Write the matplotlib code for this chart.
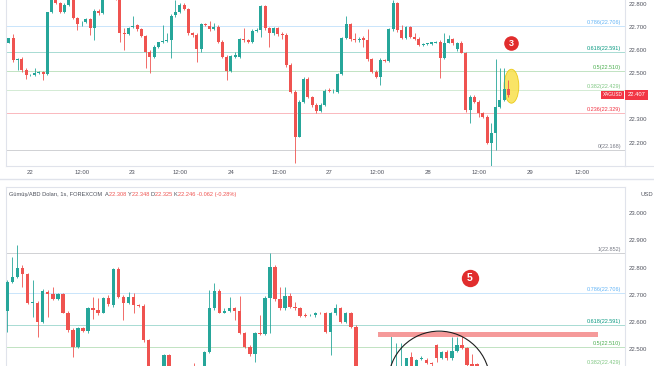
import numpy as np
import matplotlib
matplotlib.use("Agg")
import matplotlib.pyplot as plt
from matplotlib.patches import Ellipse, Rectangle
from matplotlib.lines import Line2D
from matplotlib.transforms import blended_transform_factory

plt.rcParams['font.family'] = ['Liberation Sans', 'DejaVu Sans']

UP = '#26a69a'
DOWN = '#ef5350'
AXIS_TXT = '#50535e'
BORDER = '#e0e3eb'

# ---- top panel: XAGUSD 1h (open, high, low, close) ----
top_open = [22.632, 22.651, 22.557, 22.560, 22.514, 22.492, 22.492, 22.502, 22.505, 22.497,
            22.764, 22.821, 22.803, 22.766, 22.795, 22.824, 22.738, 22.716, 22.720, 22.733,
            22.694, 22.771, 22.759, 22.831, 22.860, 22.845, 22.824, 22.673, 22.670, 22.699,
            22.707, 22.690, 22.661, 22.593, 22.569, 22.615, 22.637, 22.641, 22.644, 22.752,
            22.764, 22.795, 22.778, 22.673, 22.665, 22.603, 22.713, 22.704, 22.690, 22.702,
            22.637, 22.572, 22.511, 22.572, 22.569, 22.647, 22.644, 22.637, 22.684, 22.687,
            22.791, 22.694, 22.673, 22.694, 22.668, 22.665, 22.536, 22.420, 22.225, 22.377,
            22.475, 22.396, 22.362, 22.336, 22.362, 22.427, 22.422, 22.420, 22.497, 22.651,
            22.713, 22.647, 22.644, 22.651, 22.644, 22.560, 22.507, 22.482, 22.557, 22.554,
            22.690, 22.803, 22.687, 22.651, 22.699, 22.655, 22.647, 22.622, 22.626, 22.626,
            22.632, 22.637, 22.564, 22.632, 22.647, 22.605, 22.632, 22.589, 22.341, 22.399,
            22.377, 22.329, 22.312, 22.197, 22.243, 22.355, 22.384, 22.430]
top_high = [22.654, 22.668, 22.564, 22.569, 22.521, 22.497, 22.521, 22.511, 22.508, 22.766,
            22.831, 22.829, 22.810, 22.803, 22.839, 22.831, 22.745, 22.728, 22.738, 22.738,
            22.777, 22.777, 22.846, 22.870, 22.872, 22.850, 22.831, 22.694, 22.702, 22.748,
            22.713, 22.694, 22.665, 22.601, 22.622, 22.637, 22.709, 22.673, 22.756, 22.817,
            22.803, 22.803, 22.781, 22.680, 22.673, 22.719, 22.719, 22.728, 22.716, 22.709,
            22.644, 22.579, 22.579, 22.593, 22.651, 22.694, 22.647, 22.690, 22.694, 22.795,
            22.795, 22.702, 22.702, 22.699, 22.680, 22.673, 22.543, 22.427, 22.384, 22.482,
            22.482, 22.401, 22.370, 22.370, 22.430, 22.435, 22.430, 22.500, 22.655, 22.748,
            22.719, 22.673, 22.658, 22.661, 22.690, 22.564, 22.514, 22.564, 22.560, 22.694,
            22.817, 22.810, 22.709, 22.704, 22.704, 22.673, 22.655, 22.629, 22.632, 22.637,
            22.641, 22.644, 22.673, 22.665, 22.651, 22.634, 22.641, 22.593, 22.406, 22.406,
            22.384, 22.333, 22.319, 22.283, 22.560, 22.521, 22.521, 22.471]
top_low = [22.629, 22.550, 22.514, 22.507, 22.474, 22.488, 22.488, 22.497, 22.471, 22.491,
           22.759, 22.800, 22.762, 22.762, 22.791, 22.733, 22.687, 22.704, 22.716, 22.665,
           22.644, 22.752, 22.756, 22.825, 22.838, 22.818, 22.637, 22.601, 22.665, 22.694,
           22.684, 22.655, 22.521, 22.500, 22.564, 22.608, 22.629, 22.637, 22.564, 22.745,
           22.759, 22.774, 22.665, 22.658, 22.550, 22.593, 22.704, 22.684, 22.687, 22.629,
           22.564, 22.471, 22.507, 22.564, 22.564, 22.637, 22.629, 22.632, 22.680, 22.658,
           22.687, 22.615, 22.665, 22.661, 22.647, 22.528, 22.413, 22.110, 22.222, 22.370,
           22.391, 22.355, 22.329, 22.332, 22.358, 22.419, 22.416, 22.416, 22.492, 22.647,
           22.641, 22.637, 22.637, 22.615, 22.554, 22.500, 22.478, 22.449, 22.550, 22.550,
           22.684, 22.680, 22.647, 22.647, 22.651, 22.644, 22.618, 22.618, 22.622, 22.622,
           22.629, 22.478, 22.560, 22.629, 22.622, 22.597, 22.586, 22.334, 22.283, 22.370,
           22.312, 22.305, 22.194, 22.096, 22.168, 22.348, 22.381, 22.399]
top_close = [22.651, 22.557, 22.560, 22.514, 22.492, 22.494, 22.502, 22.504, 22.497, 22.764,
             22.821, 22.803, 22.766, 22.795, 22.824, 22.738, 22.713, 22.719, 22.733, 22.694,
             22.771, 22.759, 22.831, 22.860, 22.845, 22.824, 22.673, 22.670, 22.694, 22.704,
             22.690, 22.661, 22.593, 22.569, 22.615, 22.634, 22.641, 22.644, 22.749, 22.764,
             22.795, 22.778, 22.673, 22.665, 22.603, 22.713, 22.709, 22.690, 22.702, 22.637,
             22.572, 22.511, 22.575, 22.579, 22.647, 22.644, 22.637, 22.684, 22.687, 22.791,
             22.694, 22.673, 22.694, 22.668, 22.665, 22.536, 22.420, 22.225, 22.377, 22.475,
             22.396, 22.362, 22.336, 22.362, 22.424, 22.423, 22.424, 22.497, 22.651, 22.713,
             22.647, 22.644, 22.650, 22.644, 22.560, 22.507, 22.482, 22.557, 22.554, 22.690,
             22.803, 22.687, 22.651, 22.699, 22.655, 22.647, 22.622, 22.625, 22.629, 22.634,
             22.634, 22.564, 22.632, 22.647, 22.629, 22.632, 22.589, 22.341, 22.399, 22.377,
             22.329, 22.312, 22.197, 22.240, 22.355, 22.384, 22.430, 22.407]

top_tick_pos = [5.0, 17.1, 28.8, 40.0, 52.0, 63.2, 74.9, 86.2, 98.1, 110.1, 122.0, 134.2]
top_tick_labels = ['22', '12:00', '23', '12:00', '24', '12:00', '27', '12:00', '28', '12:00',
                   '29', '12:00']

# ---- bottom panel ----
bot_open = [22.642, 22.748, 22.764, 22.797, 22.776, 22.671, 22.671, 22.601, 22.711, 22.703,
            22.684, 22.703, 22.635, 22.571, 22.510, 22.577, 22.568, 22.650, 22.646, 22.634,
            22.687, 22.662, 22.793, 22.693, 22.671, 22.693, 22.662, 22.660, 22.534, 22.400,
            22.363, 22.400, 22.479, 22.400, 22.380, 22.370, 22.395, 22.420, 22.410, 22.430,
            22.491, 22.650, 22.714, 22.635, 22.642, 22.650, 22.642, 22.559, 22.510, 22.483,
            22.561, 22.556, 22.690, 22.803, 22.683, 22.650, 22.695, 22.654, 22.650, 22.626,
            22.626, 22.626, 22.634, 22.634, 22.565, 22.632, 22.650, 22.601, 22.632, 22.583,
            22.363, 22.380, 22.360, 22.390, 22.370, 22.400, 22.410, 22.420, 22.425, 22.430,
            22.473, 22.438, 22.466, 22.461, 22.451, 22.516, 22.470, 22.492, 22.467, 22.495,
            22.516, 22.507, 22.447, 22.445]
bot_high = [22.754, 22.839, 22.882, 22.809, 22.781, 22.754, 22.678, 22.720, 22.717, 22.729,
            22.708, 22.708, 22.640, 22.577, 22.583, 22.583, 22.656, 22.693, 22.687, 22.693,
            22.699, 22.800, 22.803, 22.699, 22.711, 22.705, 22.668, 22.666, 22.540, 22.406,
            22.410, 22.485, 22.485, 22.415, 22.400, 22.405, 22.425, 22.452, 22.435, 22.495,
            22.717, 22.742, 22.720, 22.650, 22.693, 22.656, 22.695, 22.565, 22.516, 22.565,
            22.626, 22.695, 22.854, 22.809, 22.729, 22.729, 22.705, 22.675, 22.656, 22.632,
            22.629, 22.638, 22.638, 22.638, 22.638, 22.668, 22.656, 22.638, 22.638, 22.589,
            22.390, 22.395, 22.400, 22.410, 22.415, 22.425, 22.556, 22.522, 22.522, 22.470,
            22.492, 22.465, 22.475, 22.468, 22.455, 22.520, 22.495, 22.497, 22.544, 22.544,
            22.549, 22.510, 22.485, 22.452]
bot_low = [22.565, 22.742, 22.760, 22.729, 22.666, 22.620, 22.546, 22.598, 22.620, 22.681,
           22.681, 22.632, 22.565, 22.473, 22.504, 22.565, 22.559, 22.613, 22.626, 22.632,
           22.659, 22.656, 22.687, 22.607, 22.666, 22.632, 22.656, 22.528, 22.388, 22.339,
           22.350, 22.390, 22.388, 22.370, 22.355, 22.360, 22.385, 22.400, 22.400, 22.420,
           22.488, 22.646, 22.632, 22.632, 22.638, 22.607, 22.556, 22.504, 22.476, 22.455,
           22.552, 22.552, 22.559, 22.678, 22.644, 22.646, 22.650, 22.644, 22.617, 22.617,
           22.622, 22.620, 22.628, 22.559, 22.479, 22.626, 22.595, 22.595, 22.577, 22.351,
           22.340, 22.350, 22.345, 22.360, 22.360, 22.385, 22.390, 22.400, 22.410, 22.420,
           22.430, 22.430, 22.462, 22.445, 22.440, 22.455, 22.465, 22.462, 22.462, 22.490,
           22.503, 22.400, 22.400, 22.400]
bot_close = [22.748, 22.764, 22.797, 22.776, 22.671, 22.675, 22.601, 22.714, 22.703, 22.684,
             22.703, 22.635, 22.571, 22.510, 22.577, 22.568, 22.650, 22.646, 22.634, 22.687,
             22.665, 22.793, 22.693, 22.671, 22.693, 22.662, 22.660, 22.534, 22.400, 22.363,
             22.400, 22.479, 22.400, 22.380, 22.370, 22.395, 22.420, 22.410, 22.430, 22.491,
             22.650, 22.714, 22.635, 22.642, 22.650, 22.642, 22.559, 22.510, 22.483, 22.561,
             22.556, 22.690, 22.803, 22.683, 22.650, 22.695, 22.654, 22.650, 22.622, 22.623,
             22.627, 22.634, 22.632, 22.565, 22.632, 22.650, 22.601, 22.632, 22.583, 22.363,
             22.380, 22.360, 22.390, 22.370, 22.400, 22.410, 22.430, 22.435, 22.438, 22.467,
             22.438, 22.461, 22.470, 22.451, 22.445, 22.470, 22.492, 22.467, 22.495, 22.516,
             22.507, 22.443, 22.420, 22.430]

# fibonacci retracement (level, price, colour)
fib_levels = ['0', '0.236', '0.382', '0.5', '0.618', '0.786', '1']
fib_prices = [22.168, 22.329, 22.429, 22.510, 22.591, 22.706, 22.852]
fib_colors = ['#787b86', '#f23645', '#81c784', '#4caf50', '#089981', '#64b5f6', '#787b86']

header = [('Gümüş/ABD Doları, 1s, FOREXCOM  ', '#4a4e59'), ('A', '#4a4e59'), ('22.308 ', DOWN),
          ('Y', '#4a4e59'), ('22.348 ', DOWN), ('D', '#4a4e59'), ('22.325 ', DOWN),
          ('K', '#4a4e59'), ('22.246 ', DOWN), ('-0.062 (-0.28%)', DOWN)]

W, H = 654, 366
fig = plt.figure(figsize=(W / 100, H / 100), dpi=100)


def px_rect(x0, y0, x1, y1):
    return [x0 / W, 1 - y1 / H, (x1 - x0) / W, (y1 - y0) / H]


def candles(ax, o, h, l, c, width=0.7):
    o, h, l, c = map(np.asarray, (o, h, l, c))
    x = np.arange(len(o))
    col = np.where(c >= o, UP, DOWN)
    ax.vlines(x, l, h, colors=col, lw=0.6, zorder=3)
    body = np.maximum(np.abs(c - o), 0.0015)
    ax.bar(x, body, width, bottom=np.minimum(o, c), color=col, lw=0, zorder=4)


def style(ax):
    for s in ['top', 'bottom', 'left', 'right']:
        ax.spines[s].set_color(BORDER)
        ax.spines[s].set_linewidth(0.8)
    ax.yaxis.tick_right()
    ax.tick_params(length=0, labelsize=4.3, labelcolor=AXIS_TXT, pad=3)
    ax.yaxis.set_major_formatter(plt.FormatStrFormatter('%.3f'))


def fib(ax, shown, lift=None):
    # lines for every level, labels only where they sit on the visible canvas
    lift = lift or {}
    tr = blended_transform_factory(ax.transAxes, ax.transData)
    for lev, p, col in zip(fib_levels, fib_prices, fib_colors):
        ax.axhline(p, color=col, lw=0.7, alpha=0.35, zorder=1)
        if lev not in shown:
            continue
        ax.annotate(f'{lev}({p:.3f})', xy=(0.9935, p), xycoords=tr,
                    xytext=(0, lift.get(lev, 0.6)), textcoords='offset points',
                    ha='right', va='bottom', fontsize=4, color=col, zorder=2)


# ---- top ----
ax1 = fig.add_axes(px_rect(6, -20, 625, 166))
candles(ax1, top_open, top_high, top_low, top_close)
ax1.set_xlim(-0.7, 144.3)
ax1.set_ylim(22.0986, 22.9038)
style(ax1)
ax1.spines['top'].set_visible(False)
ax1.set_yticks([22.2, 22.3, 22.5, 22.6, 22.7, 22.8])
ax1.set_xticks(top_tick_pos, top_tick_labels)
fib(ax1, ['0', '0.236', '0.382', '0.5', '0.618', '0.786'])

last = top_close[-1]
tr1 = blended_transform_factory(ax1.transAxes, ax1.transData)
ax1.text(0.9965, last, 'XAGUSD', transform=tr1, ha='right', va='center', fontsize=3.4,
         color='white', zorder=10,
         bbox=dict(boxstyle='square,pad=0.35', fc='#f23645', ec='none'))
ax1.text(1.004, last, f'{last:.3f}', transform=tr1, ha='left', va='center', fontsize=4.2,
         color='white', zorder=10, clip_on=False,
         bbox=dict(boxstyle='square,pad=0.4', fc='#f23645', ec='none'))

ax1.add_patch(Ellipse((117.7, 22.444), 3.45, 0.147, fc='#f9e04b', ec='#e8c300',
                      lw=0.6, alpha=0.85, zorder=2))
ax1.plot(117.6, 22.632, 'o', ms=10.5, color='#e12d2d', mec='none', zorder=8)
ax1.text(117.6, 22.631, '3', ha='center', va='center', color='white', fontsize=6.5,
         fontweight='bold', zorder=9)

# ---- bottom ----
ax2 = fig.add_axes(px_rect(6, 187, 625, 420))
candles(ax2, bot_open, bot_high, bot_low, bot_close)
ax2.set_xlim(-0.26, 122.3)
ax2.set_ylim(22.2416, 23.0948)
style(ax2)
ax2.set_xticks([])
ax2.set_yticks([22.5, 22.6, 22.7, 22.8, 22.9, 23.0])
fib(ax2, ['0.382', '0.5', '0.618', '0.786', '1'], lift={'0.382': 2.6})

ax2.add_patch(Rectangle((73.4, 22.545), 43.6, 0.020, fc='#f59a9a', ec='none', zorder=6))
ax2.add_patch(Ellipse((85.5, 22.381), 20.1, 0.372, fill=False, ec='#1e1e1e', lw=0.8,
                      zorder=7))
ax2.plot(91.6, 22.763, 'o', ms=12.5, color='#e12d2d', mec='none', zorder=8)
ax2.text(91.6, 22.762, '5', ha='center', va='center', color='white', fontsize=7.5,
         fontweight='bold', zorder=9)

ax2.text(1.025, 0.967, 'USD', transform=ax2.transAxes, ha='left', va='center',
         fontsize=4.2, color=AXIS_TXT, clip_on=False)

t = ax2.text(0.005, 0.967, header[0][0], transform=ax2.transAxes, ha='left', va='center',
             fontsize=4.1, color=header[0][1])
for s, c in header[1:]:
    t = ax2.annotate(s, xy=(1, 0), xycoords=t, ha='left', va='bottom', fontsize=4.1, color=c)

# separators: time axis line across the price scale, gap between the two panels
fig.add_artist(Line2D([625 / W, 1], [1 - 166 / H, 1 - 166 / H], color=BORDER, lw=0.8))
fig.add_artist(Line2D([0, 1], [1 - 179 / H, 1 - 179 / H], color=BORDER, lw=1.0))

fig.savefig('out.png', dpi=100, facecolor='white')
